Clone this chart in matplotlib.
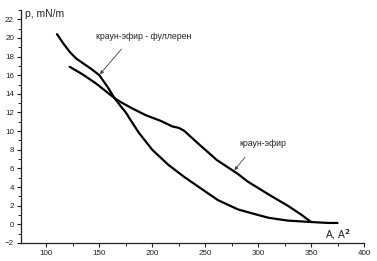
import matplotlib
matplotlib.use("Agg")
import matplotlib.pyplot as plt
from matplotlib.ticker import MultipleLocator

plt.rcParams['font.family'] = ['Liberation Sans', 'DejaVu Sans']

# краун-эфир - фуллерен
fl_x = [110, 116, 122, 128, 133, 142, 150, 158, 164, 170, 175, 180, 187.5, 200,
        215, 230, 244, 262, 281, 300, 310, 328, 350, 366, 375]
fl_y = [20.4, 19.4, 18.5, 17.8, 17.4, 16.7, 16.0, 14.7, 13.6, 12.7, 12.0, 11.1,
        9.8, 8.0, 6.4, 5.1, 4.0, 2.6, 1.6, 1.0, 0.7, 0.4, 0.25, 0.15, 0.15]

# краун-эфир
ce_x = [122, 128, 134, 147, 157, 166, 172, 180, 194, 208, 219, 225, 230,
        244, 261, 281, 290, 300, 310, 328, 340, 350]
ce_y = [16.9, 16.5, 16.1, 15.1, 14.2, 13.4, 13.0, 12.5, 11.7, 11.1, 10.5,
        10.35, 10.05, 8.6, 6.9, 5.4, 4.6, 3.9, 3.2, 2.0, 1.1, 0.25]

x_ticks = [100, 150, 200, 250, 300, 350, 400]
y_ticks = list(range(-2, 23, 2))

fig = plt.figure(figsize=(3.77, 2.61), dpi=100)
ax = fig.add_axes([0.0557, 0.069, 0.9098, 0.893])

ax.plot(fl_x, fl_y, color='black', lw=1.6, solid_joinstyle='round', solid_capstyle='round')
ax.plot(ce_x, ce_y, color='black', lw=1.6, solid_joinstyle='round', solid_capstyle='round')

ax.set_xlim(76, 400)
ax.set_ylim(-2, 23)
ax.set_xticks(x_ticks)
ax.set_yticks(y_ticks)
ax.xaxis.set_minor_locator(MultipleLocator(25))
ax.yaxis.set_minor_locator(MultipleLocator(1))

for s in ['top', 'right']:
    ax.spines[s].set_visible(False)
for s in ['left', 'bottom']:
    ax.spines[s].set_linewidth(0.9)
    ax.spines[s].set_color('#222222')

ax.tick_params(which='major', direction='out', length=3, width=0.8,
               labelsize=5.8, colors='#222222', pad=2)
ax.tick_params(which='minor', direction='out', length=2, width=0.7, colors='#222222')

txtc = '#222222'
ax.text(79.6, 22.6, 'p, mN/m', fontsize=7.4, color=txtc, ha='left', va='center')
ax.text(363.5, -1.1, r'A, A$^\mathbf{2}$', fontsize=7.4, color=txtc, ha='left', va='center')

ax.text(146.5, 20.1, 'краун-эфир - фуллерен', fontsize=6.3, color=txtc,
        ha='left', va='center')
ax.annotate('', xy=(150.6, 16.1), xytext=(170.9, 18.8),
            arrowprops=dict(arrowstyle='-|>', color='#444444', lw=0.6,
                            mutation_scale=5, shrinkA=0, shrinkB=0))
ax.text(304, 8.65, 'краун-эфир', fontsize=6.3, color=txtc, ha='center', va='center')
ax.annotate('', xy=(277.6, 5.8), xytext=(287.6, 7.2),
            arrowprops=dict(arrowstyle='-|>', color='#444444', lw=0.6,
                            mutation_scale=5, shrinkA=0, shrinkB=0))

fig.savefig('out.png', dpi=100)
